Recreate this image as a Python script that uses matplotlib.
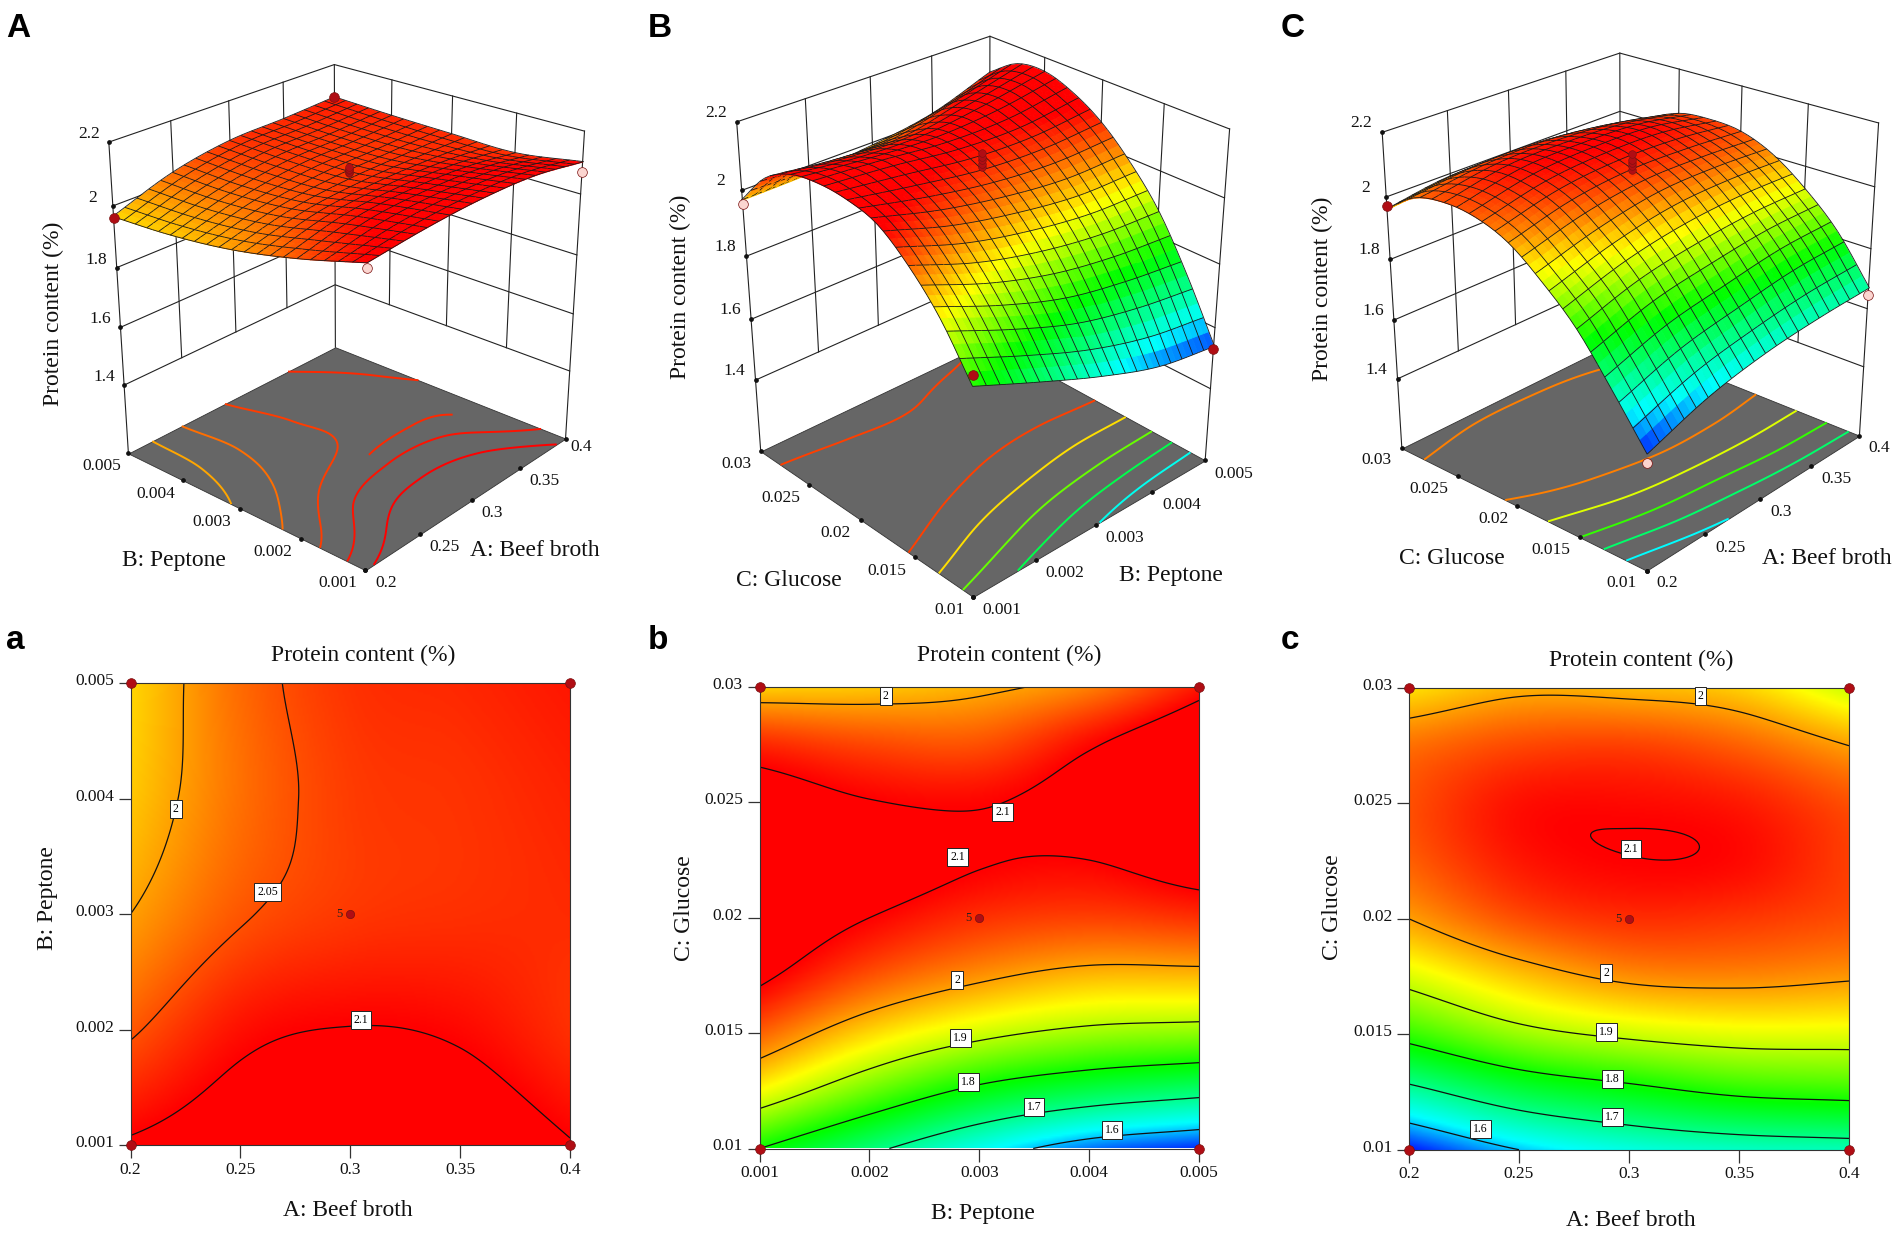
import numpy as np, matplotlib
matplotlib.use('Agg')
import matplotlib.pyplot as plt
from matplotlib.colors import LinearSegmentedColormap, Normalize
from matplotlib.transforms import ScaledTranslation
from mpl_toolkits.mplot3d import proj3d
from mpl_toolkits.mplot3d.art3d import Poly3DCollection

plt.rcParams['font.family'] = ['Liberation Serif', 'DejaVu Serif']
FW, FH = 1904, 1233

# ---- data ----
beef = [0.2, 0.25, 0.3, 0.35, 0.4]
peptone = [0.001, 0.002, 0.003, 0.004, 0.005]
glucose_ticks = [0.01, 0.015, 0.02, 0.025, 0.03]
beef_labels = ['0.2', '0.25', '0.3', '0.35', '0.4']
peptone_labels = ['0.001', '0.002', '0.003', '0.004', '0.005']
glucose_labels = ['0.01', '0.015', '0.02', '0.025', '0.03']
z_ticks = [1.4, 1.6, 1.8, 2.0, 2.2]
z_labels = ['1.4', '1.6', '1.8', '2', '2.2']
z_floor = 1.155

# rows: peptone, columns: beef broth
protein_ab = [
    [2.105, 2.125, 2.135, 2.130, 2.102],
    [2.045, 2.090, 2.101, 2.095, 2.070],
    [2.000, 2.046, 2.065, 2.070, 2.073],
    [1.975, 2.030, 2.062, 2.068, 2.078],
    [1.965, 2.033, 2.068, 2.075, 2.086],
]
# rows: glucose (0.01 to 0.03 in 0.0025 steps), columns: peptone
protein_bc = [
    [1.800, 1.715, 1.635, 1.570, 1.540],
    [1.940, 1.855, 1.785, 1.745, 1.720],
    [2.040, 1.965, 1.915, 1.885, 1.875],
    [2.110, 2.050, 2.010, 1.985, 1.985],
    [2.135, 2.100, 2.070, 2.060, 2.070],
    [2.140, 2.125, 2.103, 2.100, 2.125],
    [2.125, 2.102, 2.097, 2.120, 2.155],
    [2.075, 2.055, 2.050, 2.095, 2.145],
    [1.970, 1.975, 1.990, 2.020, 2.085],
]
# rows: glucose (0.01 to 0.03 in 0.0025 steps), columns: beef broth
protein_ac = [
    [1.530, 1.600, 1.640, 1.660, 1.670],
    [1.680, 1.745, 1.780, 1.810, 1.820],
    [1.820, 1.880, 1.910, 1.925, 1.925],
    [1.920, 1.975, 2.010, 2.015, 2.005],
    [2.000, 2.050, 2.070, 2.065, 2.050],
    [2.040, 2.085, 2.099, 2.094, 2.060],
    [2.050, 2.090, 2.094, 2.084, 2.050],
    [2.030, 2.055, 2.060, 2.040, 2.000],
    [1.960, 1.990, 1.985, 1.970, 1.910],
]
levels_a = [2.0, 2.05, 2.1]
levels_b = [1.6, 1.7, 1.8, 1.9, 2.0, 2.1]
levels_c = [1.6, 1.7, 1.8, 1.9, 2.0, 2.1]
floor_levels_A = [1.995, 2.03, 2.062, 2.088, 2.108]
floor_levels_B = [1.63, 1.74, 1.85, 1.96, 2.06]
floor_levels_C = [1.62, 1.72, 1.82, 1.92, 2.02]
# floor curve that appears only near the back corner of panel A: level, min beef broth, min peptone
floor_back_A = (2.075, 0.3, 0.0025)
# design points (x, y, z): corners of each 3D panel
points_A = [(0.2, 0.005, 1.96, '#b00d14'), (0.4, 0.005, 2.087, '#b00d14'), (0.4, 0.001, 2.07, '#fbd5d0')]
points_A_under = [(0.2, 0.001, 2.09, '#fbd5d0')]
points_B = [(0.001, 0.03, 1.958, '#fbd5d0'), (0.001, 0.01, 1.83, '#b00d14'), (0.005, 0.01, 1.53, '#b00d14')]
points_C = [(0.2, 0.03, 1.97, '#b00d14'), (0.2, 0.01, 1.50, '#fbd5d0'), (0.4, 0.01, 1.645, '#fbd5d0')]
center_stack = {'A': [2.085, 2.09, 2.095, 2.10, 2.105], 'B': [2.08, 2.09, 2.10, 2.11, 2.12], 'C': [2.07, 2.08, 2.09, 2.10, 2.12]}
labels_a = [('2', 0.2205, 0.00391), ('2.05', 0.2623, 0.00319), ('2.1', 0.3048, 0.00208)]
labels_b = [('2', 0.00215, 0.0296), ('2.1', 0.00321, 0.0246), ('2.1', 0.0028, 0.02265), ('2', 0.0028, 0.0173),
            ('1.9', 0.00283, 0.0148), ('1.8', 0.0029, 0.0129), ('1.7', 0.0035, 0.0118), ('1.6', 0.00421, 0.0108)]
labels_c = [('2', 0.3325, 0.02964), ('2.1', 0.3009, 0.02304), ('2', 0.2897, 0.01767), ('1.9', 0.2897, 0.01508),
            ('1.8', 0.2925, 0.01308), ('1.7', 0.2925, 0.01142), ('1.6', 0.2324, 0.01088)]

# ---- colours ----
V0, V1 = 1.52, 2.10
stops = [(1.52, '#0000ff'), (1.62, '#00ffff'), (1.79, '#00ff00'), (1.94, '#ffff00'), (2.10, '#ff0000')]
cmap = LinearSegmentedColormap.from_list('rsm', [((v - V0) / (V1 - V0), c) for v, c in stops], N=512)
norm = Normalize(V0, V1)
GRAY = '#666666'
SERIF = 'Liberation Serif'
MESH = np.array([0.10, 0.10, 0.10, 1.0])

def smooth(table, n_rows, n_cols):
    """Catmull-Rom upsampling of a value table, only to give smooth rendering."""
    t = np.asarray(table, float)
    def along(a, n):
        m = a.shape[0]
        p = np.vstack([2 * a[0] - a[1], a, 2 * a[-1] - a[-2]])
        u = np.linspace(0, m - 1, n)
        i = np.minimum(u.astype(int), m - 2)
        f = (u - i)[:, None]
        p0, p1, p2, p3 = p[i], p[i + 1], p[i + 2], p[i + 3]
        return 0.5 * (2 * p1 + (p2 - p0) * f + (2 * p0 - 5 * p1 + 4 * p2 - p3) * f ** 2 + (3 * p1 - p0 - 3 * p2 + p3) * f ** 3)
    return along(along(t, n_rows).T, n_cols).T

fig = plt.figure(figsize=(FW / 100, FH / 100), dpi=100)

def ftext(x, y, s, **kw):
    fig.text(x / FW, 1 - y / FH, s, **kw)

def surface(ax, x0, x1, y0, y1, table, elev, azim, h):
    """Fine coloured faces plus a coarser mesh, depth-sorted as one collection."""
    n = 41
    sx = np.linspace(x0, x1, n); sy = np.linspace(y0, y1, n)
    SX, SY = np.meshgrid(sx, sy)
    SZ = smooth(table, n, n)
    faces, colors = [], []
    for i in range(n - 1):
        for j in range(n - 1):
            faces.append([(SX[i, j], SY[i, j], SZ[i, j]), (SX[i, j + 1], SY[i, j + 1], SZ[i, j + 1]),
                          (SX[i + 1, j + 1], SY[i + 1, j + 1], SZ[i + 1, j + 1]), (SX[i + 1, j], SY[i + 1, j], SZ[i + 1, j])])
            colors.append(cmap(norm(0.25 * (SZ[i, j] + SZ[i, j + 1] + SZ[i + 1, j] + SZ[i + 1, j + 1]))))
    e, a = np.radians(elev), np.radians(azim)
    d = 0.022
    shift = np.array([np.cos(e) * np.cos(a) * (x1 - x0), np.cos(e) * np.sin(a) * (y1 - y0),
                      np.sin(e) * (2.2 - z_floor) / h]) * d
    wires = []
    def seg(i0, j0, i1, j1):
        p = np.array([SX[i0, j0], SY[i0, j0], SZ[i0, j0]]) + shift
        q = np.array([SX[i1, j1], SY[i1, j1], SZ[i1, j1]]) + shift
        wires.append([tuple(p), tuple(q), tuple(q), tuple(p)])
    for i in range(0, n, 2):
        for j in range(n - 1):
            seg(i, j, i, j + 1)
    for j in range(0, n, 2):
        for i in range(n - 1):
            seg(i, j, i + 1, j)
    fc = np.array(colors)
    none = np.zeros((len(wires), 4))
    ec = np.vstack([fc, np.tile(MESH, (len(wires), 1))])
    fc = np.vstack([fc, none])
    pc = Poly3DCollection(faces + wires, facecolors=fc, edgecolors=ec, linewidths=0.6, zsort='average', zorder=5)
    ax.add_collection3d(pc)

def panel3d(X_px, ty, W, elev, azim, f, h, xs, ys, table, xl, yl, floor_levels, pts, pts_under, stack,
            xoff, yoff, zoff, back=None):
    ax = fig.add_axes([X_px / FW, (FH - ty - 0.51351 * W) / FH, W / FW, W / FH], projection='3d', computed_zorder=False)
    ax.set_proj_type('persp', focal_length=f)
    ax.view_init(elev, azim)
    ax.set_box_aspect((1, 1, h))
    x0, x1, y0, y1 = xs[0], xs[-1], ys[0], ys[-1]
    ax.set_xlim(x0, x1); ax.set_ylim(y0, y1); ax.set_zlim(z_floor, 2.2)
    ax.set_axis_off()
    ax.patch.set_alpha(0)
    lk = dict(color='#222222', lw=0.8, zorder=1)
    for z in z_ticks:
        ax.plot([x0, x1, x1], [y1, y1, y0], [z, z, z], **lk)
    for x in xs[1:-1]:
        ax.plot([x, x], [y1, y1], [1.4, 2.2], **lk)
    for y in ys[1:-1]:
        ax.plot([x1, x1], [y, y], [1.4, 2.2], **lk)
    for x, y in [(x0, y1), (x1, y1), (x1, y0)]:
        ax.plot([x, x], [y, y], [z_floor, 2.2], **lk)
    ax.add_collection3d(Poly3DCollection([[(x0, y0, z_floor), (x1, y0, z_floor), (x1, y1, z_floor), (x0, y1, z_floor)]],
                                         facecolors=GRAY, edgecolors='#333333', linewidths=0.6, zorder=2))
    fx = np.linspace(x0, x1, 161); fy = np.linspace(y0, y1, 161)
    FX, FY = np.meshgrid(fx, fy)
    FZ = smooth(table, 161, 161)
    cs = ax.contour(FX, FY, FZ, levels=floor_levels, zdir='z', offset=z_floor,
                    cmap=cmap, norm=norm, linewidths=1.4)
    cs.set_zorder(3)
    if back is not None:
        lv, mx, my = back
        cs2 = ax.contour(FX, FY, np.where((FX >= mx) & (FY >= my), FZ, np.nan), levels=[lv], zdir='z', offset=z_floor,
                         colors=[cmap(norm(lv))], linewidths=1.4)
        cs2.set_zorder(3)
    ax.plot(list(xs), [y0] * len(xs), [z_floor] * len(xs), ls='none', marker='o', ms=2.4, color='#111111', zorder=3)
    ax.plot([x0] * len(ys), list(ys), [z_floor] * len(ys), ls='none', marker='o', ms=2.4, color='#111111', zorder=3)
    ax.plot([x0] * 5, [y1] * 5, z_ticks, ls='none', marker='o', ms=2.4, color='#111111', zorder=3)
    for x, y, z, c in pts_under:
        ax.plot([x], [y], [z], ls='none', marker='o', ms=7, mfc=c, mec='#7a1010', mew=0.5, zorder=4)
    surface(ax, x0, x1, y0, y1, table, elev, azim, h)
    for x, y, z, c in pts:
        ax.plot([x], [y], [z], ls='none', marker='o', ms=7, mfc=c, mec='#7a1010', mew=0.5, zorder=7)
    ax.plot([xs[2]] * len(stack), [ys[2]] * len(stack), stack, ls='none', marker='o', ms=5.5, mfc='#b00d14', mec='#7a1010', mew=0.4, zorder=6)
    M = ax.get_proj()
    def lab(x, y, z, s, dx, dy):
        a, b, _ = proj3d.proj_transform(x, y, z, M)
        ax.annotate(s, (a, b), xytext=(dx, dy), textcoords='offset pixels', ha='center', va='center',
                    fontsize=12.5, family=SERIF, annotation_clip=False, color='#111111')
    for x, s, o in zip(xs, xl, xoff):
        lab(x, y0, z_floor, s, *o)
    for y, s, o in zip(ys, yl, yoff):
        lab(x0, y, z_floor, s, *o)
    for z, s in zip(z_ticks, z_labels):
        lab(x0, y1, z, s, *zoff)
    return ax

panel3d(64.5, 297.8, 553.4, 25.18, -138.88, 0.575, 1.057, beef, peptone, protein_ab, beef_labels, peptone_labels,
        floor_levels_A, points_A, points_A_under, center_stack['A'],
        [(21, -13), (24, -13), (20, -13), (24, -13), (16, -8)],
        [(-28, -13), (-28, -13), (-28, -13), (-27, -14), (-27, -13)], (-20, 8), back=floor_back_A)
panel3d(682.3, 299.2, 583.8, 29.33, -132.96, 0.567, 1.143, peptone, glucose_ticks, protein_bc, peptone_labels, glucose_labels,
        floor_levels_B, points_B, [], center_stack['B'],
        [(29, -13), (29, -13), (29, -13), (30, -13), (29, -14)],
        [(-24, -13), (-28, -14), (-25, -13), (-28, -13), (-24, -13)], (-21, 9))
panel3d(1338.4, 291.2, 572.0, 24.89, -138.20, 0.579, 1.026, beef, glucose_ticks, protein_ac, beef_labels, glucose_labels,
        floor_levels_C, points_C, [], center_stack['C'],
        [(21, -12), (25, -14), (21, -13), (25, -13), (20, -12)],
        [(-25, -12), (-29, -13), (-24, -13), (-29, -13), (-25, -12)], (-21, 9))

def panel2d(box, xs, ys, xl, yl, table, levels, clabels):
    l, r, t, b = box
    ax = fig.add_axes([l / FW, 1 - b / FH, (r - l) / FW, (b - t) / FH])
    fine = smooth(table, 241, 241)
    ax.imshow(fine, extent=[xs[0], xs[-1], ys[0], ys[-1]], origin='lower', aspect='auto', cmap=cmap, norm=norm, interpolation='bilinear')
    gx = np.linspace(xs[0], xs[-1], 241); gy = np.linspace(ys[0], ys[-1], 241)
    ax.contour(gx, gy, fine, levels=levels, colors='#111111', linewidths=0.9)
    for s, x, y in clabels:
        ax.text(x, y, s, fontsize=8.5, family=SERIF, ha='center', va='center', zorder=4,
                bbox=dict(boxstyle='square,pad=0.25', fc='white', ec='#222222', lw=0.7))
    ax.set_xlim(xs[0], xs[-1]); ax.set_ylim(ys[0], ys[-1])
    ax.set_xticks(xs, xl); ax.set_yticks(ys, yl)
    ax.tick_params(length=9, width=0.9, color='#333333', labelsize=12.5, pad=3, labelcolor='#111111')
    up = ScaledTranslation(0, 4 / 100, fig.dpi_scale_trans)
    for lb in ax.get_yticklabels():
        lb.set_transform(lb.get_transform() + up)
    for sp in ax.spines.values():
        sp.set_linewidth(0.8); sp.set_color('#333333')
    for x in (xs[0], xs[-1]):
        for y in (ys[0], ys[-1]):
            ax.plot([x], [y], 'o', ms=7, mfc='#b00d14', mec='#7a1010', mew=0.5, clip_on=False, zorder=6)
    ax.plot([xs[2]], [ys[2]], 'o', ms=6, mfc='#b00d14', mec='#7a1010', mew=0.5, zorder=6)
    ax.annotate('5', (xs[2], ys[2]), xytext=(-11, 0), textcoords='offset pixels', fontsize=9, family=SERIF,
                ha='center', va='center', color='#222222')
    return ax

panel2d((130.6, 570, 683, 1145), beef, peptone, beef_labels, peptone_labels, protein_ab, levels_a, labels_a)
panel2d((759.6, 1199, 687, 1148.5), peptone, glucose_ticks, peptone_labels, glucose_labels, protein_bc, levels_b, labels_b)
panel2d((1409, 1849, 688, 1149.7), beef, glucose_ticks, beef_labels, glucose_labels, protein_ac, levels_c, labels_c)

lab = dict(family=SERIF, fontsize=17, ha='center', va='center', color='#111111')
ftext(53, 314, 'Protein content (%)', rotation=90, **lab)
ftext(680, 287, 'Protein content (%)', rotation=90, **lab)
ftext(1322, 289, 'Protein content (%)', rotation=90, **lab)
ftext(534.7, 550.4, 'A: Beef broth', **lab)
ftext(173.5, 560.7, 'B: Peptone', **lab)
ftext(789, 580, 'C: Glucose', **lab)
ftext(1170.6, 576, 'B: Peptone', **lab)
ftext(1452, 558.7, 'C: Glucose', **lab)
ftext(1827, 558.3, 'A: Beef broth', **lab)
ftext(363, 655, 'Protein content (%)', **lab)
ftext(1009, 655, 'Protein content (%)', **lab)
ftext(1641, 660, 'Protein content (%)', **lab)
ftext(348, 1211, 'A: Beef broth', **lab)
ftext(983, 1213, 'B: Peptone', **lab)
ftext(1631, 1220, 'A: Beef broth', **lab)
ftext(47, 897.6, 'B: Peptone', rotation=90, **lab)
ftext(684, 908.5, 'C: Glucose', rotation=90, **lab)
ftext(1332, 907, 'C: Glucose', rotation=90, **lab)

pl = dict(family='Liberation Sans', fontsize=24, fontweight='bold', ha='left', va='baseline', color='black')
for s, x, y in [('A', 6, 37), ('B', 648, 37), ('C', 1281, 37), ('a', 6, 649), ('b', 648, 649), ('c', 1281, 649)]:
    ftext(x, y, s, **pl)

fig.savefig('out.png', dpi=100)
